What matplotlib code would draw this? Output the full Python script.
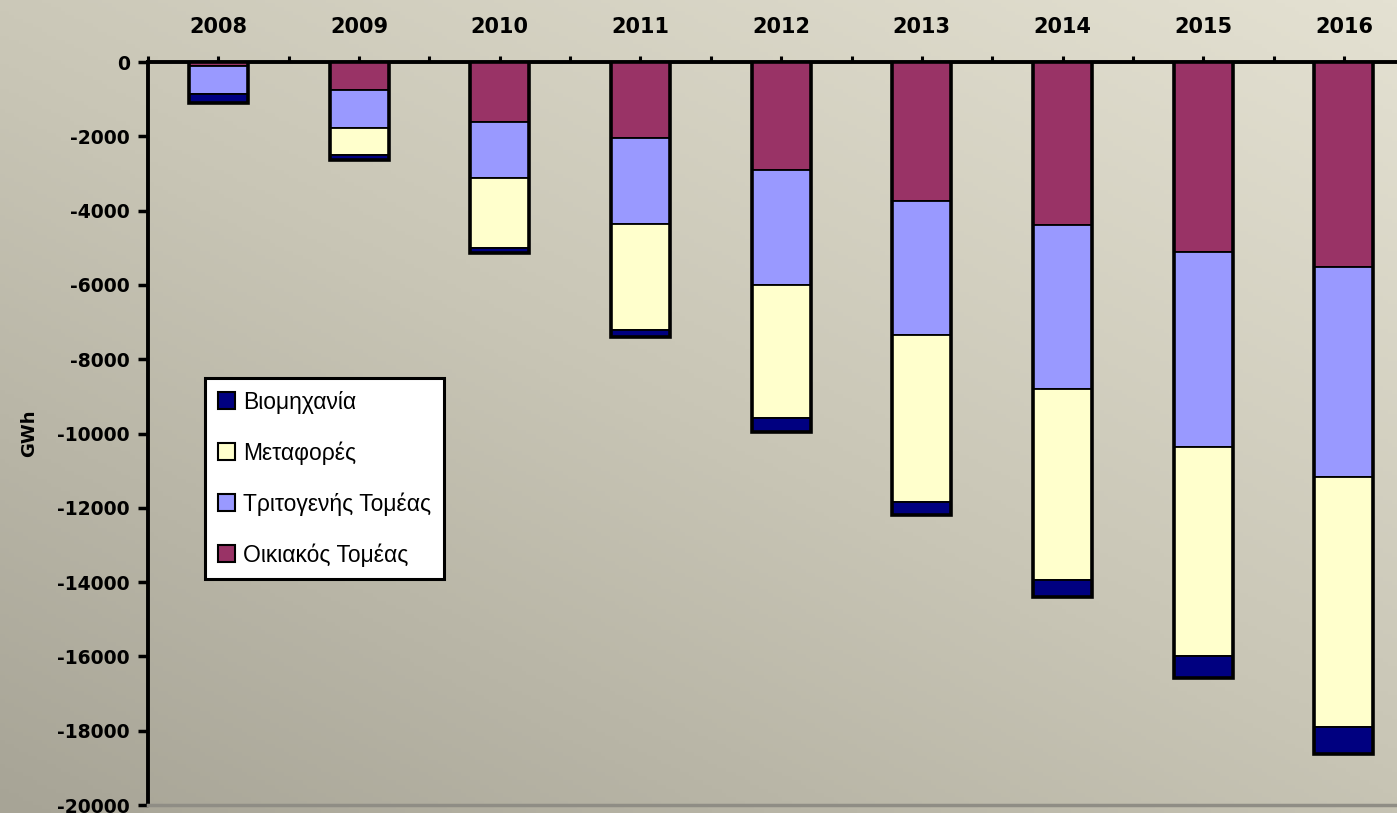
import numpy as np
import matplotlib
matplotlib.use("Agg")
import matplotlib.pyplot as plt
from matplotlib.colors import LinearSegmentedColormap
from matplotlib.patches import Patch

years = ["2008", "2009", "2010", "2011", "2012", "2013", "2014", "2015", "2016"]
oikiakos = [-100, -750, -1620, -2050, -2900, -3750, -4390, -5120, -5520]
tritogenis = [-750, -1020, -1510, -2310, -3100, -3600, -4410, -5230, -5650]
metafores = [0, -730, -1880, -2850, -3580, -4500, -5140, -5650, -6730]
viomixania = [-250, -130, -130, -190, -380, -350, -460, -590, -730]
yticks = [0, -2000, -4000, -6000, -8000, -10000, -12000, -14000, -16000, -18000, -20000]

series = [
    ("Οικιακός Τομέας", oikiakos, "#993366"),
    ("Τριτογενής Τομέας", tritogenis, "#9999ff"),
    ("Μεταφορές", metafores, "#ffffcc"),
    ("Βιομηχανία", viomixania, "#000080"),
]

W, H = 1397, 813
fig = plt.figure(figsize=(W / 100, H / 100), dpi=100)

# background gradient
bg = fig.add_axes([0, 0, 1, 1], zorder=-10)
xx, yy = np.meshgrid(np.linspace(0, 1, 300), np.linspace(0, 1, 200))
grad = 0.55 * xx + 0.65 * (1 - yy)
cmap = LinearSegmentedColormap.from_list("bg", ["#a7a496", "#c9c6b6", "#e4e1d2"])
bg.imshow(grad, cmap=cmap, aspect="auto", origin="upper", extent=[0, 1, 0, 1])
bg.set_axis_off()

left_px, top_px, bottom_px = 148, 62, 805
cat_px = 140.7
ax = fig.add_axes([left_px / W, 1 - bottom_px / H, 9 * cat_px / W, (bottom_px - top_px) / H])
ax.set_facecolor("none")

x = np.arange(len(years))
bw = 0.42
base = np.zeros(len(years))
for name, vals, col in series:
    v = np.array(vals, dtype=float)
    ax.bar(x, v, bw, bottom=base, color=col, edgecolor="black", linewidth=1.3, zorder=3)
    base = base + v
# thick outline of each stacked bar
ax.bar(x, base, bw, fill=False, edgecolor="black", linewidth=2.6, zorder=4)

ax.set_xlim(-0.5, 8.5)
ax.set_ylim(-20000, 0)

ax.spines["right"].set_visible(False)
ax.spines["left"].set_linewidth(2.8)
ax.spines["top"].set_linewidth(2.8)
ax.spines["bottom"].set_linewidth(2.5)
ax.spines["bottom"].set_color("#8f8d85")
for s in ["left", "top"]:
    ax.spines[s].set_color("black")

ax.xaxis.set_ticks_position("top")
ax.set_xticks(x)
ax.set_xticks(np.arange(-0.5, 9, 1), minor=True)
ax.set_xticklabels(years, fontsize=15, fontweight="heavy")
ax.tick_params(axis="x", which="both", direction="out", length=4, width=2.2,
               color="black", pad=14)

ax.set_yticks(yticks)
ax.set_yticklabels([str(v) for v in yticks], fontsize=13.5, fontweight="heavy")
ax.tick_params(axis="y", direction="out", length=7, width=2.5, color="black", pad=6)

ax.set_ylabel("GWh", fontsize=13, fontweight="heavy", labelpad=14)

handles = [Patch(facecolor=c, edgecolor="black", linewidth=1.5) for _, _, c in series]
labels = [n for n, _, _ in series]
order = [3, 2, 1, 0]
leg = fig.legend([handles[i] for i in order], [labels[i] for i in order],
                 loc="upper left", bbox_to_anchor=(205 / W, 1 - 378 / H),
                 prop={"family": "Liberation Sans", "size": 16.5},
                 frameon=True, fancybox=False, framealpha=1,
                 edgecolor="black", facecolor="white",
                 handlelength=0.75, handleheight=0.75, handletextpad=0.35,
                 labelspacing=1.2, borderpad=0.55, borderaxespad=0)
leg.get_frame().set_linewidth(2.2)

fig.savefig("out.png", dpi=100)
